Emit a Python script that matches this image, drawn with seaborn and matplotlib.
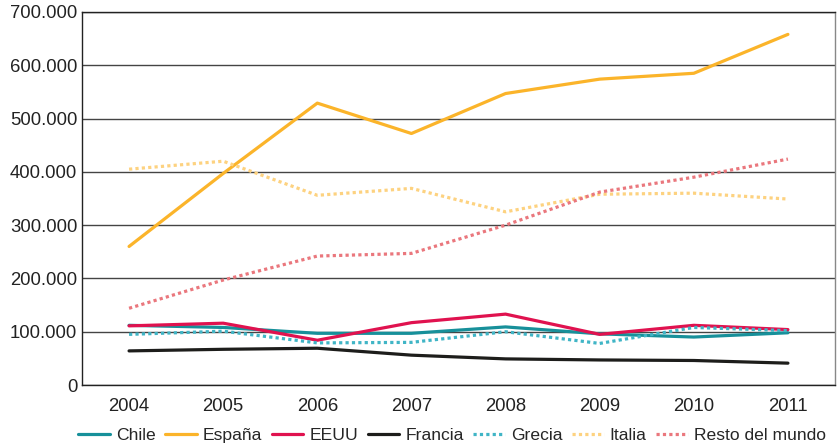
import matplotlib
matplotlib.use("Agg")
import matplotlib.pyplot as plt
import matplotlib.ticker as mticker
import seaborn as sns
import pandas as pd

years = [2004, 2005, 2006, 2007, 2008, 2009, 2010, 2011]
chile = [112000, 108000, 97000, 97000, 109000, 96000, 90000, 98000]
espana = [260000, 397000, 529000, 472000, 547000, 574000, 585000, 658000]
eeuu = [111000, 116000, 84000, 117000, 133000, 95000, 112000, 104000]
francia = [64000, 67000, 69000, 56000, 49000, 47000, 46000, 41000]
grecia = [95000, 101000, 79000, 80000, 100000, 78000, 108000, 102000]
italia = [405000, 420000, 356000, 369000, 325000, 358000, 360000, 349000]
resto = [144000, 197000, 242000, 247000, 300000, 362000, 390000, 424000]

series_names = ["Chile", "España", "EEUU", "Francia", "Grecia", "Italia", "Resto del mundo"]
series_vals = [chile, espana, eeuu, francia, grecia, italia, resto]
colors = ["#17909a", "#fbb42a", "#e0124f", "#1d1d1b", "#40b5c6", "#fdd280", "#ea777d"]
solid = [True, True, True, True, False, False, False]

rows = []
for n, vals in zip(series_names, series_vals):
    for y, v in zip(years, vals):
        rows.append({"Año": y, "Valor": v, "Serie": n})
df = pd.DataFrame(rows)

sns.set_theme(style="white")
plt.rcParams['font.family'] = ['Liberation Sans', 'DejaVu Sans']

fig = plt.figure(figsize=(8.4, 4.48), dpi=100)
ax = fig.add_axes([82/840, 1-385/448, (835-82)/840, (385-12)/448])

palette = dict(zip(series_names, colors))
dashes = {n: ("" if s else (1, 1)) for n, s in zip(series_names, solid)}
sns.lineplot(data=df, x="Año", y="Valor", hue="Serie", style="Serie",
             palette=palette, dashes=dashes, linewidth=2.3, ax=ax,
             hue_order=series_names, style_order=series_names)

ax.set_xlim(2003.5, 2011.5)
ax.set_ylim(0, 700000)
ax.set_xticks(years)
ax.set_xticklabels([str(y) for y in years])
ax.set_yticks(range(0, 700001, 100000))
ax.yaxis.set_major_formatter(mticker.FuncFormatter(lambda v, p: f"{int(v):,}".replace(",", ".")))
ax.set_xlabel("")
ax.set_ylabel("")
ax.tick_params(axis="both", length=0, labelsize=13.3, colors="#222222")
ax.tick_params(axis="x", pad=9)
ax.tick_params(axis="y", pad=3.5)
ax.grid(axis="y", color="#444444", linewidth=1)
ax.set_axisbelow(True)
for side in ["left", "bottom", "top"]:
    ax.spines[side].set_color("#222222")
    ax.spines[side].set_linewidth(1)
ax.spines["right"].set_color("#888888")
ax.spines["right"].set_linewidth(1)

ax.get_legend().remove()
handles, labels = ax.get_legend_handles_labels()
fig.legend(handles, labels, loc="center", bbox_to_anchor=(452/840, 1-435/448),
           ncol=7, frameon=False, fontsize=12.6, handlelength=1.8,
           handletextpad=0.35, columnspacing=0.55, borderpad=0, borderaxespad=0)

fig.savefig("out.png", dpi=100)
